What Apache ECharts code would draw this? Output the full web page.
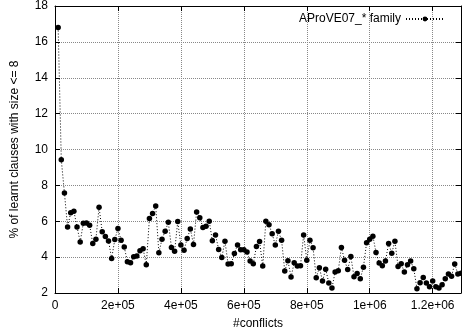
<!DOCTYPE html>
<html>
<head>
<meta charset="utf-8">
<script src="https://cdn.jsdelivr.net/npm/echarts@6/dist/echarts.min.js"></script>
<style>
  html, body { margin: 0; padding: 0; background: #fff; }
  #chart { width: 462px; height: 335px; }
</style>
</head>
<body>
<div id="chart"></div>
<script>
// one point every 10000 conflicts, starting at 10000
const conflictStep = 10000
const learntShare = [
  16.8, 9.43, 7.57, 5.68, 6.48, 6.56, 5.68, 4.85, 5.89, 5.9,
  5.78, 4.76, 5.0, 6.78, 5.41, 5.15, 4.9, 3.93, 4.98, 5.59,
  4.94, 4.57, 3.74, 3.68, 4.02, 4.06, 4.35, 4.46, 3.57, 6.15,
  6.43, 6.85, 4.24, 5.0, 5.44, 5.94, 4.54, 4.33, 5.98, 4.67,
  4.39, 5.04, 5.57, 4.71, 6.52, 6.2, 5.65, 5.72, 6.0, 4.91,
  5.24, 4.43, 3.98, 4.89, 3.61, 3.63, 4.2, 4.67, 4.41, 4.41,
  4.28, 3.78, 3.63, 4.59, 4.87, 3.5, 6.0, 5.8, 5.3, 4.67,
  5.44, 4.94, 3.22, 3.8, 2.89, 3.68, 3.5, 3.52, 5.24, 3.83,
  4.94, 4.52, 2.85, 3.41, 2.67, 3.33, 2.56, 2.28, 3.17, 3.24,
  4.54, 3.83, 3.31, 4.04, 2.91, 3.09, 2.8, 3.44, 4.8, 5.0,
  5.17, 4.26, 3.67, 3.52, 3.78, 4.76, 4.22, 4.89, 3.48, 3.63,
  3.17, 3.57, 3.78, 3.35, 2.24, 2.57, 2.87, 2.56, 2.35, 2.67,
  2.35, 2.28, 2.46, 2.8, 3.06, 2.94, 3.62, 3.06, 3.1
]
const xTickLabels = ['0', '2e+05', '4e+05', '6e+05', '8e+05', '1e+06', '1.2e+06']
const yTickLabels = ['2', '4', '6', '8', '10', '12', '14', '16', '18']
const seriesName = 'AProVE07_* family'

const font = 'Liberation Sans, Helvetica, Arial, sans-serif'
const points = learntShare.map((v, i) => [(i + 1) * conflictStep, v])

const chart = echarts.init(document.getElementById('chart'))

const frameLine = { show: true, onZero: false, lineStyle: { color: '#000', width: 1 } }
const innerTick = { show: true, inside: true, length: 5, lineStyle: { color: '#000', width: 1 } }

chart.setOption({
  backgroundColor: '#fff',
  animation: false,
  textStyle: { fontFamily: font },
  grid: { left: 55, right: 1, top: 5, bottom: 42 },
  legend: {
    data: [seriesName],
    right: 12,
    top: 8,
    align: 'right',
    itemWidth: 38,
    itemHeight: 6,
    itemGap: 5,
    textStyle: { fontFamily: font, fontSize: 12, color: '#000' }
  },
  xAxis: [
    {
      type: 'value',
      min: 0,
      max: 1290000,
      interval: 200000,
      name: '#conflicts',
      nameLocation: 'middle',
      nameGap: 25,
      nameTextStyle: { fontFamily: font, fontSize: 12, color: '#000' },
      axisLine: frameLine,
      axisTick: innerTick,
      axisLabel: {
        margin: 7,
        fontSize: 12,
        color: '#000',
        showMaxLabel: false,
        formatter: v => xTickLabels[Math.round(v / 200000)] || ''
      },
      splitLine: { show: true, lineStyle: { color: '#888', type: 'dotted', width: 1 } }
    },
    {
      type: 'value',
      position: 'top',
      min: 0,
      max: 1290000,
      interval: 200000,
      axisLine: frameLine,
      axisTick: innerTick,
      axisLabel: { show: false },
      splitLine: { show: false }
    }
  ],
  yAxis: [
    {
      type: 'value',
      min: 2,
      max: 18,
      interval: 2,
      name: '% of learnt clauses with size <= 8',
      nameLocation: 'middle',
      nameGap: 34,
      nameTextStyle: { fontFamily: font, fontSize: 12, color: '#000' },
      axisLine: frameLine,
      axisTick: innerTick,
      axisLabel: {
        margin: 7,
        fontSize: 12,
        color: '#000',
        formatter: v => yTickLabels[Math.round((v - 2) / 2)]
      },
      splitLine: { show: true, lineStyle: { color: '#888', type: 'dotted', width: 1 } }
    },
    {
      type: 'value',
      position: 'right',
      min: 2,
      max: 18,
      interval: 2,
      axisLine: frameLine,
      axisTick: innerTick,
      axisLabel: { show: false },
      splitLine: { show: false }
    }
  ],
  series: [
    {
      name: seriesName,
      type: 'line',
      data: points,
      symbol: 'circle',
      symbolSize: 5.5,
      showSymbol: true,
      itemStyle: { color: '#000' },
      lineStyle: { color: '#000', width: 1, type: [1, 2] }
    }
  ]
})
</script>
</body>
</html>
